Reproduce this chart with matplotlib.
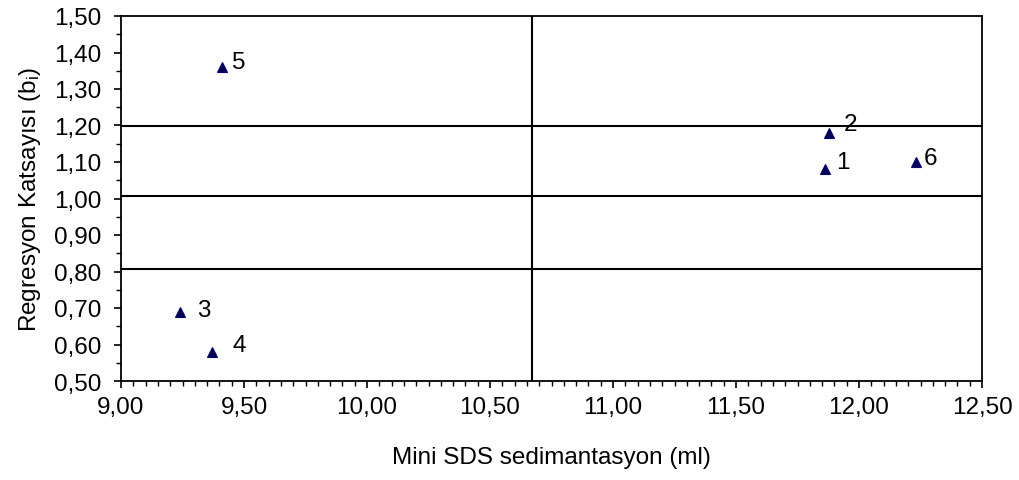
import matplotlib
matplotlib.use("Agg")
import matplotlib.pyplot as plt
from matplotlib.ticker import MultipleLocator, FuncFormatter

plt.rcParams['font.family'] = ['Liberation Sans', 'DejaVu Sans']
plt.rcParams['mathtext.fontset'] = 'custom'
plt.rcParams['mathtext.rm'] = 'Liberation Sans'
plt.rcParams['mathtext.it'] = 'Liberation Sans:italic'

# Genotype means: Mini SDS sedimentation vs. regression coefficient
labels = ['1', '2', '3', '4', '5', '6']
sds = [11.86, 11.88, 9.24, 9.37, 9.41, 12.23]
b_coef = [1.08, 1.18, 0.69, 0.58, 1.36, 1.10]

# Reference lines
sds_mean = 10.67
b_lines = [1.20, 1.007, 0.807]

# Label offsets in points (dx, dy)
offsets = [(8, 5), (10, 6), (12, 1), (15, 5), (7, 4), (6, 3)]

FS = 17.5

fig = plt.figure(figsize=(10.19, 4.81), dpi=100)
ax = fig.add_axes([121/1019, 1 - 382/481, (982-121)/1019, (382-17)/481])

ax.set_xlim(9.0, 12.5)
ax.set_ylim(0.5, 1.5)

for yv in b_lines:
    ax.axhline(yv, color='black', lw=1.5, zorder=1)
ax.axvline(sds_mean, color='black', lw=1.5, zorder=1)

ax.plot(sds, b_coef, linestyle='none', marker='^', ms=6.5,
        mfc='#000050', mec='#000080', mew=0.8, zorder=3)

for lab, x, y, (dx, dy) in zip(labels, sds, b_coef, offsets):
    ax.annotate(lab, (x, y), xytext=(dx, dy), textcoords='offset points',
                fontsize=FS, ha='left', va='center', zorder=4)

comma = FuncFormatter(lambda v, p: f"{v:.2f}".replace('.', ','))
ax.xaxis.set_major_locator(MultipleLocator(0.5))
ax.xaxis.set_minor_locator(MultipleLocator(0.05))
ax.yaxis.set_major_locator(MultipleLocator(0.1))
ax.yaxis.set_minor_locator(MultipleLocator(0.05))
ax.xaxis.set_major_formatter(comma)
ax.yaxis.set_major_formatter(comma)

ax.tick_params(axis='both', which='major', direction='out', length=5, width=1.2,
               labelsize=FS, color='black')
ax.tick_params(axis='both', which='minor', direction='out', length=3.5, width=1.0,
               color='black')
ax.tick_params(axis='x', which='major', pad=6)
ax.tick_params(axis='y', which='major', pad=9)

for s in ax.spines.values():
    s.set_linewidth(1.3)

ax.set_xlabel('Mini SDS sedimantasyon (ml)', fontsize=FS, labelpad=20)
ax.set_ylabel(r'Regresyon Katsayısı (b$_{\mathregular{i}}$)', fontsize=FS, labelpad=8)

fig.savefig('out.png', dpi=100, facecolor='white')
